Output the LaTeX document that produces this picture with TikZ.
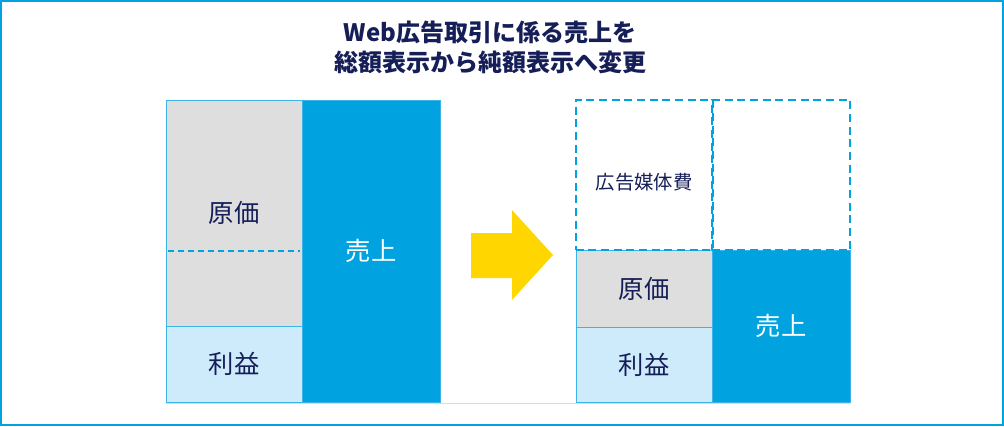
\documentclass[tikz,border=0pt]{standalone}
\usepackage{fontspec}
\setmainfont{Noto Sans CJK JP}
\usetikzlibrary{positioning}
\definecolor{navy}{RGB}{22,30,88}
\definecolor{skyblue}{RGB}{0,163,224}
\definecolor{paleblue}{RGB}{206,235,252}
\definecolor{costgray}{RGB}{222,222,222}
\definecolor{edgeblue}{RGB}{60,180,232}
\definecolor{linegray}{RGB}{220,220,220}
\definecolor{arrowyellow}{RGB}{255,214,0}

\begin{document}
\begin{tikzpicture}[x=0.75pt,y=-0.75pt,
 cell/.style={draw=edgeblue, line width=.6pt, inner sep=0pt, outer sep=0pt, align=center, text=navy, font=\fontsize{19}{22}\selectfont},
 cost/.style={cell, fill=costgray, minimum width=102pt},
 profit/.style={cell, fill=paleblue, minimum width=102pt},
 sales/.style={cell, fill=skyblue, text=white, minimum width=103.5pt},
 adcell/.style={cell, draw=skyblue, dash pattern=on 6pt off 3.5pt, line width=1.5pt, minimum height=112.5pt, font=\fontsize{14.5}{17}\selectfont},
 divider/.style={draw=skyblue, line width=.8pt, dash pattern=on 4.5pt off 3pt}]
\useasboundingbox (0,0) rectangle (1004,426);
\draw[skyblue, line width=1.8pt] (1,1) rectangle (1003,425);
\node[font=\bfseries\fontsize{18}{22.5}\selectfont, text=navy, align=center] (title) at (490,47) {Web広告取引に係る売上を\\総額表示から純額表示へ変更};
% before: gross
\node[cost, minimum height=169.5pt, anchor=north west] (cost1) at (166,100) {原価};
\node[profit, minimum height=57pt, below=0pt of cost1] (profit1) {利益};
\node[sales, minimum height=226.5pt, anchor=north west] (sales1) at (cost1.north east) {売上};
\coordinate (mid) at (0,251);
\draw[divider] ([xshift=1.5pt]cost1.west |- mid) -- ([xshift=-1.5pt]cost1.east |- mid);
% arrow
\fill[arrowyellow] (471,233) -- (512,233) -- (512,210) -- (553,255) -- (512,300) -- (512,278) -- (471,278) -- cycle;
% after: net
\node[cost, minimum height=57.75pt, anchor=north west] (cost2) at (576,250) {原価};
\node[profit, minimum height=56.25pt, below=0pt of cost2] (profit2) {利益};
\node[sales, minimum height=114pt, right=0pt of cost2.north east, anchor=north west] (sales2) {売上};
\node[adcell, minimum width=102.75pt, above=0pt of cost2] (media) {\raisebox{-10.5pt}[0pt][0pt]{広告媒体費}};
\node[adcell, minimum width=103.5pt, above=0pt of sales2] (gone) {};
\draw[linegray, line width=.6pt] ([yshift=-1pt]profit1.south west) -- ([yshift=-1pt]sales2.south east);
\end{tikzpicture}
\end{document}
